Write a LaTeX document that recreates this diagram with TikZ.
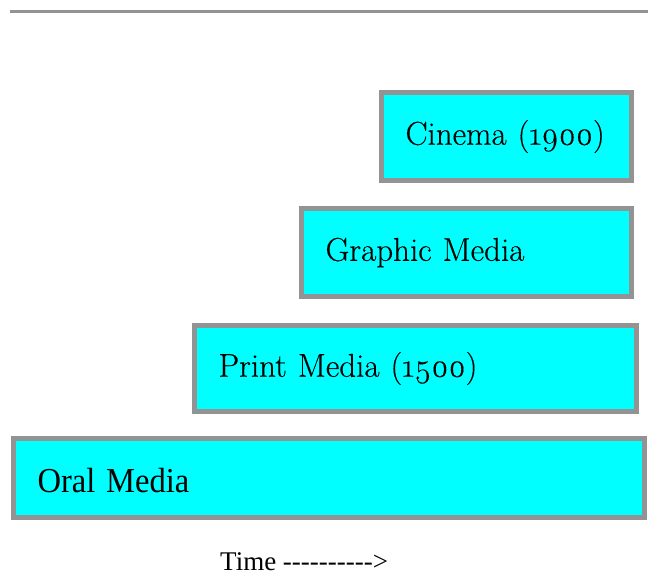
\documentclass[tikz,border=0pt]{standalone}
\usepackage{fontspec}
\usepackage{graphicx}
\newfontfamily\garfont{Latin Modern Roman}[Numbers=OldStyle, FakeBold=0.3]
\newfontfamily\timesfont{Liberation Serif}
\definecolor{rimgray}{HTML}{939393}
\definecolor{mediacyan}{HTML}{00FFFF}
\newcommand{\hy}{\mbox{-}}

\begin{document}
\begin{tikzpicture}[x=1pt, y=-1pt,
    mediabox/.style={draw=rimgray, line width=5pt, fill=mediacyan, anchor=north west,
                     inner xsep=24pt, align=left, font=\garfont\fontsize{33}{38}\selectfont}]
	  \useasboundingbox (0,0) rectangle (648,575);
	  \draw [rimgray, line width=3pt] (10,12) -- (648,12);

	  \node [mediabox, text width=202pt, minimum height=88pt] (cinema)  at (379,90)  {Cinema (1900)};
	  \node [mediabox, text width=282pt, minimum height=88pt] (graphic) at (299,206) {Graphic Media};
	  \node [mediabox, text width=394pt, minimum height=86pt] (print)   at (192,323) {Print Media (1500)};
	  \node [mediabox, text width=583pt, minimum height=79pt,
	         font=\timesfont\fontsize{35}{40}\selectfont] (oral) at (11,436)
	        {\raisebox{-14pt}[0pt][0pt]{\scalebox{0.93}[1]{Oral Media}}};

	  \node [anchor=base west, inner sep=0pt, font=\timesfont\fontsize{27}{32}\selectfont] (time) at (220,570)
	        {Time \hy\hy\hy\hy\hy\hy\hy\hy\hy\hy>};
	\end{tikzpicture}
\end{document}
